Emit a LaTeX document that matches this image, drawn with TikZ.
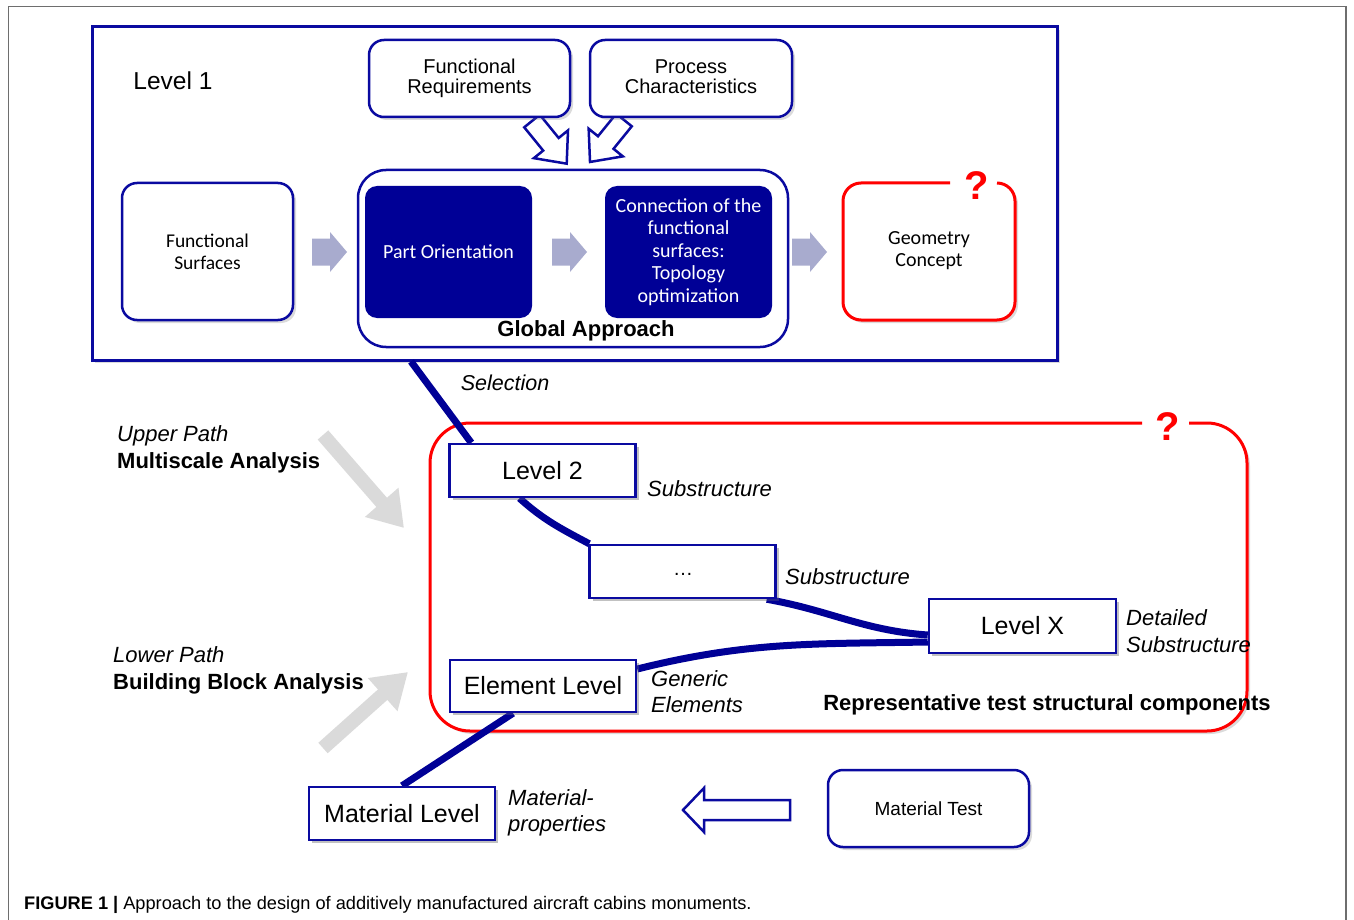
\documentclass[tikz,border=0pt]{standalone}
\usepackage{fontspec}
\setmainfont{Liberation Sans}
\newfontfamily\calfont{Carlito}
\usetikzlibrary{shadows,arrows.meta,calc}
\definecolor{navy}{RGB}{0,0,150}
\definecolor{navyline}{RGB}{10,10,160}
\definecolor{redc}{RGB}{255,0,0}
\definecolor{lav}{RGB}{168,171,206}
\definecolor{lgray}{RGB}{218,218,218}
\definecolor{frameg}{RGB}{110,110,110}
\newcommand{\fs}[2]{\fontsize{#1}{#2}\selectfont}
\tikzset{
  shadowed/.style={drop shadow={opacity=0.28,shadow xshift=3pt,shadow yshift=-3pt}},
  roundbox/.style={draw=navyline, line width=2.5pt, rounded corners=15pt, fill=white, shadowed, align=center, inner sep=0pt},
  levelbox/.style={draw=navyline, line width=2.5pt, fill=white, shadowed, align=center, inner sep=0pt, minimum width=186pt, minimum height=53pt, font=\fs{25}{25}},
  darkbox/.style={fill=navy, rounded corners=12pt, text=white, align=center, inner sep=0pt, minimum width=167pt, minimum height=132pt, font=\calfont\fs{20}{22.5}},
  lightarrow/.style={fill=lav, draw=none},
  hollow/.style={fill=white, draw=navyline, line width=2.5pt, line join=miter},
  pathline/.style={draw=navy, line width=7pt},
  grayarrow/.style={draw=lgray, line width=14pt, -{Triangle[width=42pt,length=34pt]}},
  lbl/.style={anchor=west, inner sep=0pt, align=left, font=\itshape\fs{22}{27}},
  qmark/.style={text=redc, font=\bfseries\fs{40}{40}, inner sep=0pt}
}
% hollow arrow: #1 = tail point, #2 = rotation, #3 length, #4 head length, #5 body half, #6 head half
\newcommand{\hollowarrow}[6]{%
  \draw[hollow, shift={#1}, rotate=#2] (0,-#5) -- ({#3-#4},-#5) -- ({#3-#4},-#6) -- (#3,0) -- ({#3-#4},#6) -- ({#3-#4},#5) -- (0,#5) -- cycle;}
\newcommand{\lightarr}[2]{%
  \fill[lightarrow] (#1,#2-13.5) -- (#1+18,#2-13.5) -- (#1+18,#2-20) -- (#1+35,#2) -- (#1+18,#2+20) -- (#1+18,#2+13.5) -- (#1,#2+13.5) -- cycle;}
\begin{document}
\begin{tikzpicture}[x=1pt,y=-1pt]
\useasboundingbox (0,0) rectangle (1354,920);
\fill[white] (0,0) rectangle (1354,920);
% outer frame
\draw[frameg, line width=1.5pt] (8.5,920) -- (8.5,6.5) -- (1346,6.5) -- (1346,920);

% Level 1 box
\node[draw=navyline, line width=3pt, fill=white, shadowed, minimum width=965pt, minimum height=333pt, inner sep=0pt] (lvl1) at (574.5,193.5) {};
\node[font=\fs{24.5}{24.5}, inner sep=0pt] (lvl1txt) at (173,81) {Level 1};

% hollow arrows from FR and PC
\hollowarrow{(532,121)}{-50.9}{55}{25}{10}{22}
\hollowarrow{(624,120)}{-129}{54}{25}{10}{22}

\node[roundbox, minimum width=201pt, minimum height=77pt, font=\fs{20}{20}] (fr) at (469.5,78.5) {Functional\\Requirements};
\node[roundbox, minimum width=202pt, minimum height=77pt, font=\fs{20}{20}] (pc) at (691,78.5) {\raisebox{0pt}[\height][0pt]{}Process\\Characteristics\rule[-4pt]{0pt}{1pt}};

\node[roundbox, minimum width=171pt, minimum height=137pt, font=\calfont\fs{19.5}{22}] (fsurf) at (207.5,251.5) {Functional\\Surfaces};

\node[draw=navyline, line width=2.5pt, rounded corners=28pt, fill=white, minimum width=430pt, minimum height=177pt, inner sep=0pt] (ga) at (573,258.5) {};
\node[font=\bfseries\fs{22}{22}, inner sep=0pt] (gatxt) at (586,331) {Global Approach};
\node[darkbox] (po) at (448.5,252) {Part Orientation};
\node[darkbox] (ct) at (688.5,252) {Connection of the\\functional\\surfaces:\\Topology\\optimization};

% geometry concept
\fill[white, shadowed, rounded corners=18pt] (843,183) rectangle (1015,320);
\draw[redc, line width=3pt, rounded corners=18pt] (997,183) -- (1015,183) -- (1015,320) -- (843,320) -- (843,183) -- (950,183);
\node[font=\calfont\fs{20}{22}, align=center, inner sep=0pt] (gc) at (929,251) {Geometry\\Concept};
\node[qmark] (q1) at (977,186) {?};

% light arrows
\lightarr{312}{252}
\lightarr{552}{252}
\lightarr{792}{252}

% Selection
\node[font=\itshape\fs{21.5}{21.5}, inner sep=0pt] (sel) at (505,383) {Selection};

% big red box
\fill[white, shadowed, rounded corners=40pt] (430,423) rectangle (1247,731);
\draw[redc, line width=3pt, rounded corners=40pt] (1189,423) -- (1247,423) -- (1247,731) -- (430,731) -- (430,423) -- (1142,423);
\node[qmark] (q2) at (1168,427) {?};

% gray arrows
\coordinate (ua1) at (323,435);
\coordinate (ua2) at (404,528);
\coordinate (la1) at (323,748);
\coordinate (la2) at (408,672);
\draw[grayarrow] (ua1) -- (ua2);
\draw[grayarrow] (la1) -- (la2);
\node[lbl] (up) at (117,449) {Upper Path\\\upshape\bfseries Multiscale Analysis};
\node[lbl] (lp) at (113,670) {Lower Path\\\upshape\bfseries Building Block Analysis};

% level boxes (placed first to name them)
\node[levelbox] (lv2) at (542.5,470.5) {Level 2};
\node[levelbox] (dots) at (682.5,571.5) {};
\node[levelbox, minimum width=187pt, minimum height=54pt] (lx) at (1022.5,626) {Level X};
\node[levelbox, minimum height=52pt] (el) at (543,686) {Element Level};
\node[levelbox] (ml) at (402,813.5) {Material Level};
\node[roundbox, minimum width=201pt, minimum height=77pt, font=\fs{19}{19}] (mt) at (928.5,808.5) {Material Test};

% blue path lines
\draw[pathline] ([xshift=-163.5pt]lvl1.south) -- ([xshift=23pt]lv2.north west);
\draw[pathline] ([xshift=-23pt]lv2.south) to[out=-42,in=152] ([xshift=1pt]dots.north west);
\draw[pathline] ([xshift=-10pt]dots.south east) to[out=-10,in=176] ([yshift=-9pt]lx.west);
\draw[pathline] ([yshift=17pt]el.east) to[out=14,in=181] ([yshift=-16pt]lx.west);
\draw[pathline] ([xshift=-30pt]el.south) -- (ml.north);
% redraw boxes on top of lines
\node[levelbox] at (lv2) {Level 2};
\node[levelbox] at (dots) {};
\node[font=\fs{20}{20}, inner sep=0pt] (dotstxt) at (683,574) {…};
\node[levelbox, minimum width=187pt, minimum height=54pt] at (lx) {Level X};
\node[levelbox, minimum height=52pt] at (el) {Element Level};
\node[levelbox] at (ml) {Material Level};

% material arrow
\hollowarrow{(790,810)}{180}{107}{21}{10}{22}

% labels
\node[lbl] (sub1) at (647,489) {Substructure};
\node[lbl] (sub2) at (785,577) {Substructure};
\node[lbl] (det) at (1126,631.5) {Detailed\\Substructure};
\node[lbl, font=\itshape\fs{22}{26}] (gen) at (651,692) {Generic\\Elements};
\node[lbl, font=\itshape\fs{22}{26}] (mp) at (508,813) {Material-\\properties};
\node[font=\bfseries\fs{22}{22}, inner sep=0pt] (rep) at (1047,705) {Representative test structural components};

% caption
\node[anchor=west, inner sep=0pt, font=\fs{18.2}{18.2}] (cap) at (24,905) {\textbf{FIGURE 1 |} Approach to the design of additively manufactured aircraft cabins monuments.};
\end{tikzpicture}
\end{document}
